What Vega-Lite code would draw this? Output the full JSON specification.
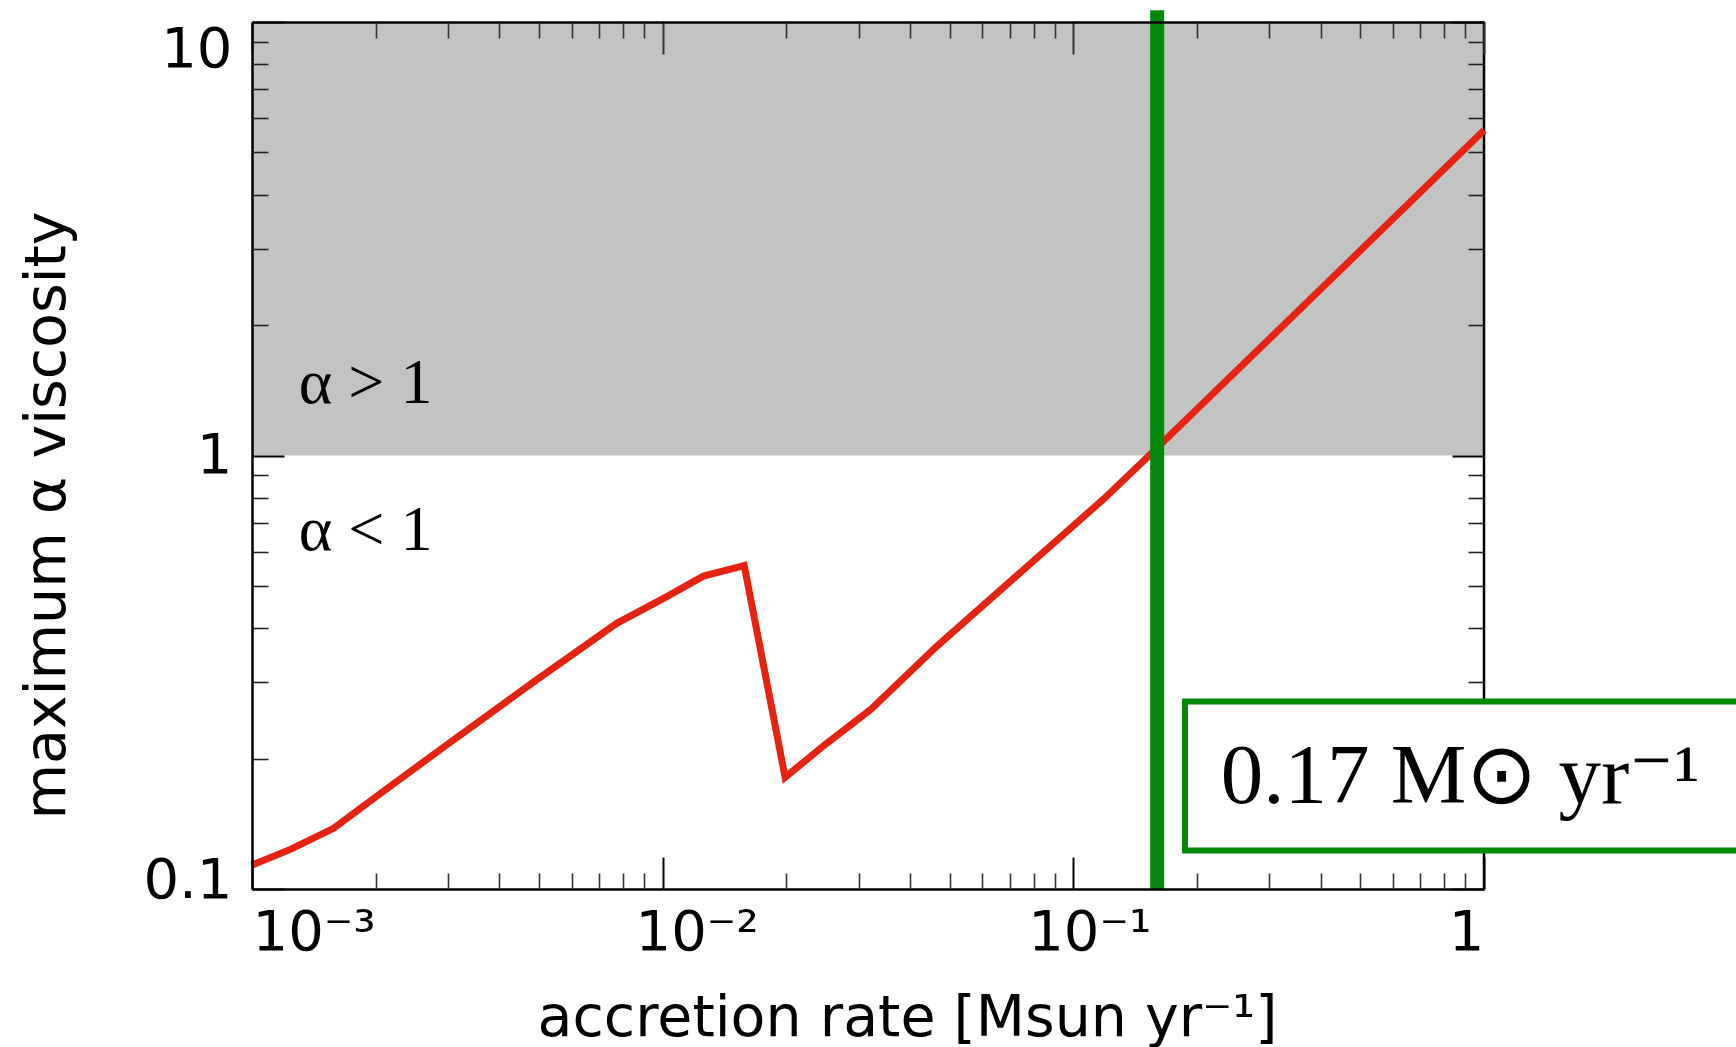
{
  "$schema": "https://vega.github.io/schema/vega-lite/v6.json",
  "width": 1232,
  "height": 867,
  "autosize": {"type": "none"},
  "padding": {"left": 252, "top": 22, "right": 252, "bottom": 158},
  "background": "white",
  "config": {
    "view": {"stroke": null},
    "axis": {"grid": false, "zindex": 1, "labelFont": "DejaVu Sans", "titleFont": "DejaVu Sans", "titleFontWeight": "normal", "labelColor": "black", "titleColor": "black"}
  },
  "resolve": {"axis": {"x": "independent", "y": "independent"}},
  "layer": [
    {
      "data": {"values": [{"x": 0.001, "x2": 1, "y": 1, "y2": 10}]},
      "mark": {"type": "rect", "color": "#c1c4c2"},
      "encoding": {
        "x": {
          "field": "x", "type": "quantitative",
          "scale": {"type": "log", "domain": [0.001, 1], "nice": false},
          "axis": {
            "orient": "bottom", "zindex": 1,
            "values": [0.001, 0.01, 0.1, 1],
            "labelExpr": "datum.value < 0.005 ? '10⁻³' : datum.value < 0.05 ? '10⁻²' : datum.value < 0.5 ? '10⁻¹' : '1'",
            "tickSize": -32, "tickWidth": 2, "tickColor": "black",
            "domain": true, "domainColor": "black", "domainWidth": 2.5,
            "labelFontSize": 56, "labelPadding": 48, "labelFlush": true, "labelBaseline": "top",
            "labelOffset": {"condition": [{"test": "datum.value > 0.005 && datum.value < 0.05", "value": 34}, {"test": "datum.value > 0.05 && datum.value < 0.5", "value": 16}], "value": 0},
            "title": "accretion rate [Msun  yr⁻¹]", "titleFontSize": 57,
            "titleX": 655, "titleY": 146, "titleBaseline": "alphabetic", "titleAlign": "center"
          }
        },
        "x2": {"field": "x2"},
        "y": {
          "field": "y", "type": "quantitative",
          "scale": {"type": "log", "domain": [0.1, 10], "nice": false},
          "axis": {
            "orient": "left", "zindex": 1,
            "values": [0.1, 1, 10],
            "labelExpr": "datum.value >= 5 ? '10' : datum.value >= 0.5 ? '1' : '0.1'",
            "tickSize": -32, "tickWidth": 2, "tickColor": "black",
            "domain": true, "domainColor": "black", "domainWidth": 2.5,
            "labelFontSize": 56, "labelPadding": 52, "labelAlign": "right",
            "labelBaseline": {"condition": {"test": "datum.value >= 5", "value": "top"}, "value": "middle"},
            "labelOffset": {"condition": {"test": "datum.value < 0.5", "value": -9}, "value": 0},
            "title": "maximum α viscosity", "titleFontSize": 57, "titleAngle": -90,
            "titleX": -188, "titleY": 493, "titleBaseline": "alphabetic", "titleAlign": "center"
          }
        },
        "y2": {"field": "y2"}
      }
    },
    {
      "data": {"values": [{"x": 1, "y": 0.1, "y2": 10}]},
      "mark": {"type": "rule", "color": "black", "strokeWidth": 2.5},
      "encoding": {
        "x": {"field": "x", "type": "quantitative", "scale": {"type": "log", "domain": [0.001, 1], "nice": false}, "axis": null},
        "y": {"field": "y", "type": "quantitative", "scale": {"type": "log", "domain": [0.1, 10], "nice": false}, "axis": null},
        "y2": {"field": "y2"}
      }
    },
    {
      "data": {"values": [
        {"x": 0.001, "y": 0.1135},
        {"x": 0.00124, "y": 0.1234},
        {"x": 0.00158, "y": 0.138},
        {"x": 0.002, "y": 0.163},
        {"x": 0.00292, "y": 0.212},
        {"x": 0.00489, "y": 0.302},
        {"x": 0.00773, "y": 0.41},
        {"x": 0.01, "y": 0.467},
        {"x": 0.01257, "y": 0.527},
        {"x": 0.0158, "y": 0.557},
        {"x": 0.01987, "y": 0.181},
        {"x": 0.0248, "y": 0.215},
        {"x": 0.0322, "y": 0.26},
        {"x": 0.0465, "y": 0.363},
        {"x": 0.0718, "y": 0.522},
        {"x": 0.1186, "y": 0.794},
        {"x": 0.153, "y": 1.0},
        {"x": 0.25, "y": 1.57},
        {"x": 0.5, "y": 2.97},
        {"x": 1, "y": 5.63}
      ]},
      "mark": {"type": "line", "color": "#e6230f", "strokeWidth": 7, "strokeJoin": "miter"},
      "encoding": {
        "x": {
          "field": "x", "type": "quantitative",
          "scale": {"type": "log", "domain": [0.001, 1], "nice": false},
          "axis": {
            "orient": "bottom", "zindex": 1,
            "values": [0.002, 0.003, 0.004, 0.005, 0.006, 0.007, 0.008, 0.009, 0.02, 0.03, 0.04, 0.05, 0.06, 0.07, 0.08, 0.09, 0.2, 0.3, 0.4, 0.5, 0.6, 0.7, 0.8, 0.9],
            "tickSize": -16, "tickWidth": 1.6, "tickColor": "#333333",
            "labels": false, "domain": false, "title": null
          }
        },
        "y": {
          "field": "y", "type": "quantitative",
          "scale": {"type": "log", "domain": [0.1, 10], "nice": false},
          "axis": {
            "orient": "left", "zindex": 1,
            "values": [0.2, 0.3, 0.4, 0.5, 0.6, 0.7, 0.8, 0.9, 2, 3, 4, 5, 6, 7, 8, 9],
            "tickSize": -16, "tickWidth": 1.6, "tickColor": "#222222",
            "labels": false, "domain": false, "title": null
          }
        }
      }
    },
    {
      "data": {"values": [{"x": 0.16, "y": 0.1, "y2": 10.64}]},
      "mark": {"type": "rule", "color": "#038a0b", "strokeWidth": 14},
      "encoding": {
        "x": {
          "field": "x", "type": "quantitative",
          "scale": {"type": "log", "domain": [0.001, 1], "nice": false},
          "axis": {
            "orient": "top", "zindex": 1,
            "values": [0.001, 0.01, 0.1, 1],
            "tickSize": -32, "tickWidth": 2, "tickColor": "#333333",
            "labels": false, "domain": true, "domainColor": "black", "domainWidth": 2.5, "title": null
          }
        },
        "y": {
          "field": "y", "type": "quantitative",
          "scale": {"type": "log", "domain": [0.1, 10], "nice": false},
          "axis": {
            "orient": "right", "zindex": 1,
            "values": [0.1, 1, 10],
            "tickSize": -32, "tickWidth": 2, "tickColor": "black",
            "labels": false, "domain": false, "title": null
          }
        },
        "y2": {"field": "y2"}
      }
    },
    {
      "data": {"values": [{"x": 0.187, "x2": 5, "y": 0.1227, "y2": 0.2707}]},
      "mark": {"type": "rect", "fill": "white", "stroke": "#038a0b", "strokeWidth": 6},
      "encoding": {
        "x": {
          "field": "x", "type": "quantitative",
          "scale": {"type": "log", "domain": [0.001, 1], "nice": false},
          "axis": {
            "orient": "top", "zindex": 1,
            "values": [0.002, 0.003, 0.004, 0.005, 0.006, 0.007, 0.008, 0.009, 0.02, 0.03, 0.04, 0.05, 0.06, 0.07, 0.08, 0.09, 0.2, 0.3, 0.4, 0.5, 0.6, 0.7, 0.8, 0.9],
            "tickSize": -16, "tickWidth": 1.6, "tickColor": "#333333",
            "labels": false, "domain": false, "title": null
          }
        },
        "x2": {"field": "x2"},
        "y": {
          "field": "y", "type": "quantitative",
          "scale": {"type": "log", "domain": [0.1, 10], "nice": false},
          "axis": {
            "orient": "right", "zindex": 1,
            "values": [0.3, 0.4, 0.5, 0.6, 0.7, 0.8, 0.9, 2, 3, 4, 5, 6, 7, 8, 9],
            "tickSize": -16, "tickWidth": 1.6, "tickColor": "#222222",
            "labels": false, "domain": false, "title": null
          }
        },
        "y2": {"field": "y2"}
      }
    },
    {
      "data": {"values": [{"x": 0.0013, "y": 1.32, "t": "α > 1"}, {"x": 0.0013, "y": 0.605, "t": "α < 1"}]},
      "mark": {"type": "text", "font": "Liberation Serif", "fontSize": 64, "align": "left", "baseline": "alphabetic", "color": "black"},
      "encoding": {
        "x": {"field": "x", "type": "quantitative", "scale": {"type": "log", "domain": [0.001, 1], "nice": false}, "axis": null},
        "y": {"field": "y", "type": "quantitative", "scale": {"type": "log", "domain": [0.1, 10], "nice": false}, "axis": null},
        "text": {"field": "t"}
      }
    },
    {
      "data": {"values": [{"x": 0.2285, "y": 0.158, "t": "0.17 M⊙ yr⁻¹"}]},
      "mark": {"type": "text", "font": "Liberation Serif", "fontSize": 85, "align": "left", "baseline": "alphabetic", "color": "black"},
      "encoding": {
        "x": {"field": "x", "type": "quantitative", "scale": {"type": "log", "domain": [0.001, 1], "nice": false}, "axis": null},
        "y": {"field": "y", "type": "quantitative", "scale": {"type": "log", "domain": [0.1, 10], "nice": false}, "axis": null},
        "text": {"field": "t"}
      }
    }
  ]
}
